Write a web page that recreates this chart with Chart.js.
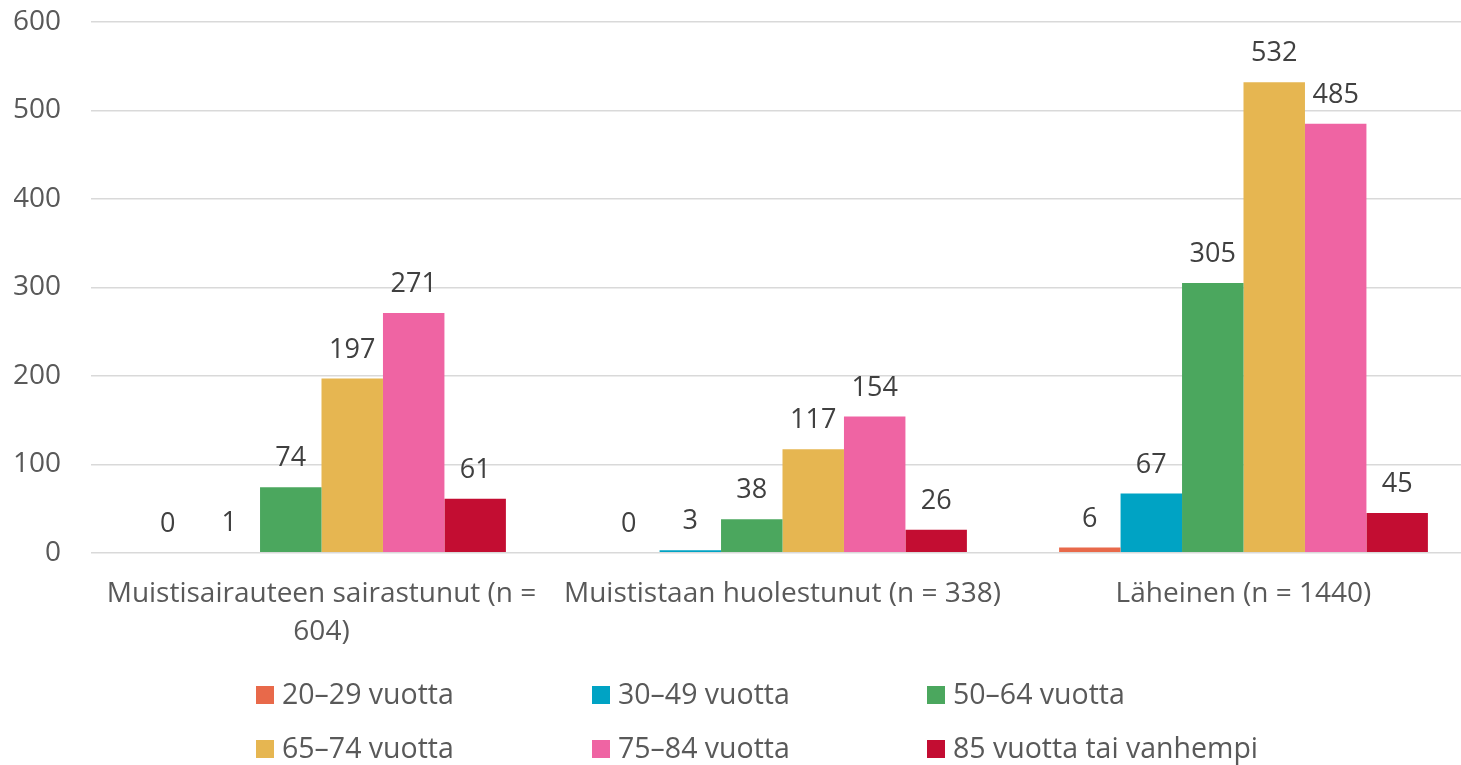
<!DOCTYPE html>
<html>
<head>
<meta charset="utf-8">
<script src="https://cdn.jsdelivr.net/npm/chart.js@4.4.1/dist/chart.umd.min.js"></script>
<style>
html,body{margin:0;padding:0;background:#fff;overflow:hidden;}
#wrap{position:relative;width:1474px;height:765px;}
</style>
</head>
<body>
<div id="wrap"><canvas id="c"></canvas></div>
<script>
const categories = [["Muistisairauteen sairastunut (n =", "604)"], "Muististaan huolestunut (n = 338)", "Läheinen (n = 1440)"];
const seriesNames = ["20–29 vuotta", "30–49 vuotta", "50–64 vuotta", "65–74 vuotta", "75–84 vuotta", "85 vuotta tai vanhempi"];
const age20_29 = [0, 0, 6];
const age30_49 = [1, 3, 67];
const age50_64 = [74, 38, 305];
const age65_74 = [197, 117, 532];
const age75_84 = [271, 154, 485];
const age85plus = [61, 26, 45];
const yTicks = [0, 100, 200, 300, 400, 500, 600];
const seriesColors = ["#E8694A", "#00A3C4", "#4BA75E", "#E6B651", "#EF64A3", "#C30D32"];

const seriesValues = [age20_29, age30_49, age50_64, age65_74, age75_84, age85plus];
const FONT = "'Open Sans', 'Noto Sans', sans-serif";

const dataLabels = {
  id: 'dataLabels',
  afterDatasetsDraw(chart) {
    const ctx = chart.ctx;
    ctx.save();
    ctx.font = "27px " + FONT;
    ctx.fillStyle = "#404040";
    ctx.textAlign = "center";
    ctx.textBaseline = "alphabetic";
    chart.data.datasets.forEach((ds, i) => {
      const meta = chart.getDatasetMeta(i);
      meta.data.forEach((bar, j) => {
        ctx.fillText(String(ds.data[j]), bar.x, bar.y - 21);
      });
    });
    ctx.restore();
  }
};

const customLegend = {
  id: 'customLegend',
  afterDraw(chart) {
    const ctx = chart.ctx;
    const colX = [256, 592, 927];
    const rowY = [695, 749];
    ctx.save();
    ctx.font = "28.5px " + FONT;
    ctx.textBaseline = "middle";
    ctx.textAlign = "left";
    chart.data.datasets.forEach((ds, i) => {
      const x = colX[i % 3];
      const y = rowY[Math.floor(i / 3)];
      ctx.fillStyle = ds.backgroundColor;
      ctx.fillRect(x, y - 9, 18, 18);
      ctx.fillStyle = "#595959";
      ctx.fillText(ds.label, x + 26, y + 1);
    });
    ctx.restore();
  }
};

new Chart(document.getElementById('c'), {
  type: 'bar',
  data: {
    labels: categories,
    datasets: seriesNames.map((name, i) => ({
      label: name,
      data: seriesValues[i],
      backgroundColor: seriesColors[i],
      borderWidth: 0,
      categoryPercentage: 0.8,
      barPercentage: 1.0
    }))
  },
  options: {
    responsive: true,
    maintainAspectRatio: false,
    animation: false,
    layout: { padding: { left: 14, right: 0, top: 22, bottom: 92 } },
    plugins: {
      legend: { display: false },
      tooltip: { enabled: false }
    },
    scales: {
      x: {
        afterFit(scale) { scale.paddingLeft = 0; scale.paddingRight = 0; scale.paddingTop = 0; scale.paddingBottom = 0; },
        grid: { display: false, drawTicks: false },
        border: { display: false },
        ticks: {
          color: "#595959",
          font: { family: FONT, size: 28, lineHeight: 1.36 },
          padding: 22,
          maxRotation: 0,
          autoSkip: false
        }
      },
      y: {
        min: yTicks[0],
        max: yTicks[yTicks.length - 1],
        afterBuildTicks(scale) { scale.ticks = yTicks.map(v => ({ value: v })); },
        afterFit(scale) { scale.width = 77; scale.paddingTop = 0; scale.paddingBottom = 0; },
        grid: { color: "#d9d9d9", lineWidth: 1.5, drawTicks: false },
        border: { display: false },
        ticks: {
          color: "#595959",
          font: { family: FONT, size: 28 },
          padding: 30
        }
      }
    }
  },
  plugins: [dataLabels, customLegend]
});
</script>
</body>
</html>
